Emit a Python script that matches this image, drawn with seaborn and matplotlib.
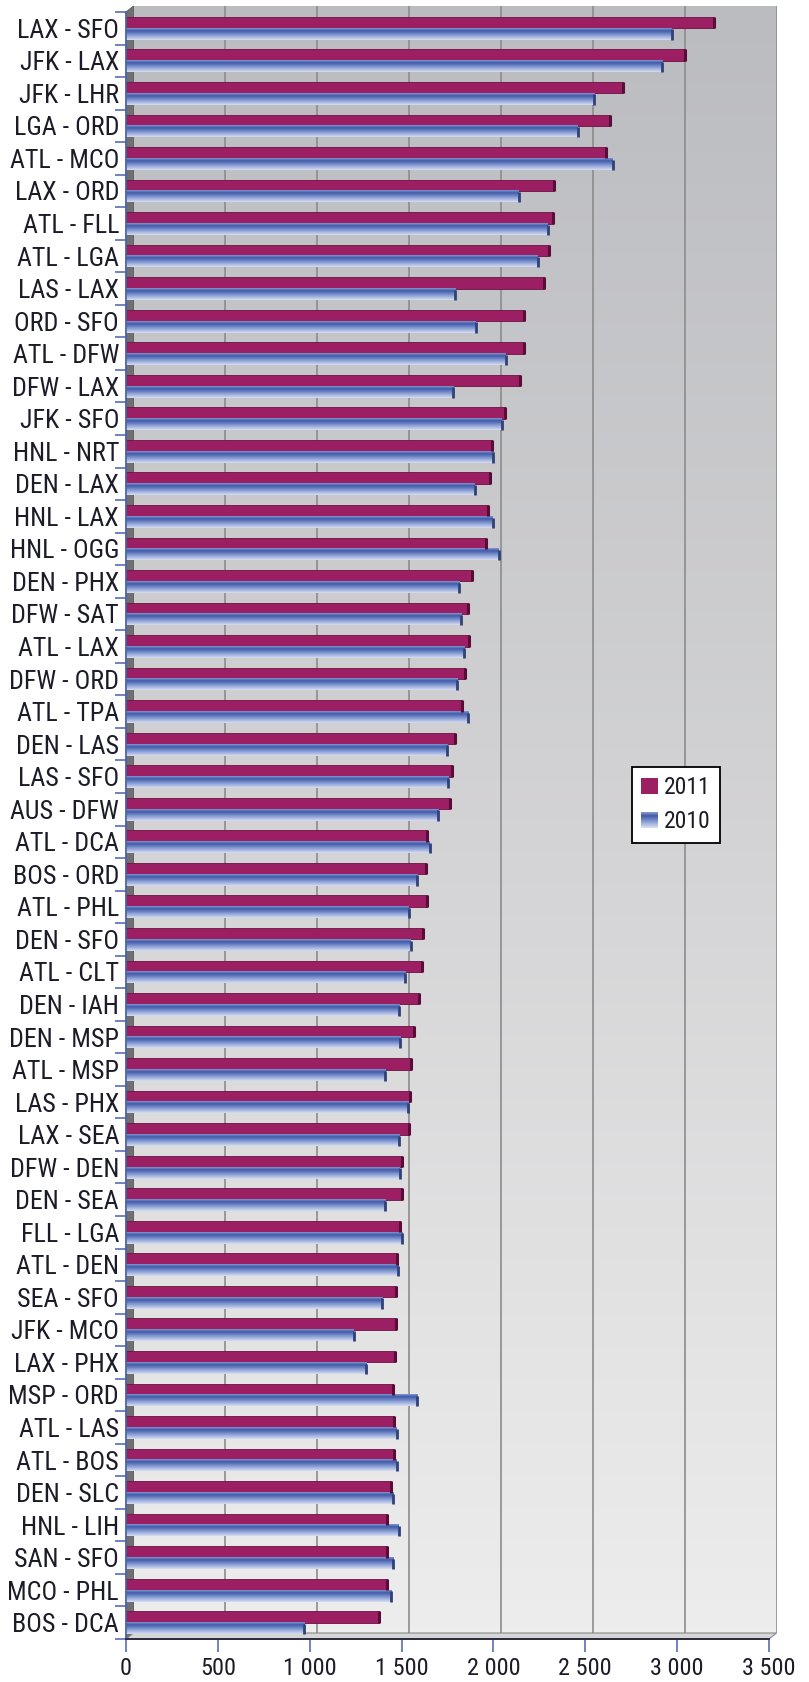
import numpy as np
import pandas as pd
import matplotlib
matplotlib.use("Agg")
import matplotlib.pyplot as plt
from matplotlib import font_manager as fm
import seaborn as sns
from matplotlib.colors import LinearSegmentedColormap, to_rgba
from matplotlib.patches import Polygon, Rectangle, Patch
from matplotlib.legend_handler import HandlerBase
from matplotlib.ticker import FixedLocator

routes = [
    "LAX - SFO", "JFK - LAX", "JFK - LHR", "LGA - ORD", "ATL - MCO",
    "LAX - ORD", "ATL - FLL", "ATL - LGA", "LAS - LAX", "ORD - SFO",
    "ATL - DFW", "DFW - LAX", "JFK - SFO", "HNL - NRT", "DEN - LAX",
    "HNL - LAX", "HNL - OGG", "DEN - PHX", "DFW - SAT", "ATL - LAX",
    "DFW - ORD", "ATL - TPA", "DEN - LAS", "LAS - SFO", "AUS - DFW",
    "ATL - DCA", "BOS - ORD", "ATL - PHL", "DEN - SFO", "ATL - CLT",
    "DEN - IAH", "DEN - MSP", "ATL - MSP", "LAS - PHX", "LAX - SEA",
    "DFW - DEN", "DEN - SEA", "FLL - LGA", "ATL - DEN", "SEA - SFO",
    "JFK - MCO", "LAX - PHX", "MSP - ORD", "ATL - LAS", "ATL - BOS",
    "DEN - SLC", "HNL - LIH", "SAN - SFO", "MCO - PHL", "BOS - DCA",
]
flights_2011 = [
    3200, 3045, 2705, 2635, 2612, 2330, 2325, 2302, 2275, 2168,
    2165, 2145, 2063, 1993, 1979, 1970, 1958, 1886, 1864, 1866,
    1844, 1828, 1790, 1772, 1766, 1639, 1634, 1636, 1618, 1609,
    1596, 1565, 1554, 1548, 1540, 1501, 1500, 1489, 1474, 1469,
    1469, 1465, 1456, 1458, 1458, 1443, 1418, 1418, 1418, 1378,
]
flights_2010 = [
    2972, 2920, 2550, 2460, 2650, 2138, 2296, 2242, 1791, 1904,
    2067, 1780, 2045, 2000, 1898, 1997, 2028, 1814, 1825, 1841,
    1803, 1863, 1748, 1754, 1699, 1654, 1586, 1540, 1551, 1520,
    1487, 1494, 1411, 1536, 1487, 1489, 1411, 1505, 1483, 1396,
    1239, 1309, 1585, 1474, 1474, 1454, 1485, 1454, 1443, 969,
]
years = ["2011", "2010"]
x_ticks = [0, 500, 1000, 1500, 2000, 2500, 3000, 3500]

MAGENTA = "#9c1f64"
BLUE = "#6f86c6"
AXIS_BLUE = "#4a62b0"
TEXT = "#1c1c28"


def pick_narrow_font():
    # the original uses a narrow face; take the first condensed family we have
    names = {f.name for f in fm.fontManager.ttflist}
    for cand in ["Roboto Condensed", "Liberation Sans Narrow", "Archivo Narrow",
                 "Open Sans Condensed", "Noto Sans Condensed"]:
        if cand in names:
            return cand, True
    return "Liberation Sans", False


font_name, is_narrow = pick_narrow_font()

sns.set_theme(style="white")
plt.rcParams["font.family"] = [font_name, "DejaVu Sans"]

ylab_size = 18.7 if is_narrow else 15.5
xlab_size = 17.5 if is_narrow else 15
leg_size = 17 if is_narrow else 15

W, H = 809, 1682
fig = plt.figure(figsize=(W / 100, H / 100), dpi=100)


def fx(px):
    return px / W


def fy(py):
    return 1 - py / H


# front frame of the plot (pixels) and 3D depth offset
L, R, T, B = 126, 769, 12, 1639
DX, DY = 7.5, 6

blue_grad = LinearSegmentedColormap.from_list(
    "bar2010", [(0, "#8196d0"), (0.22, "#3f5aa8"), (0.55, "#7e94cf"), (1, "#d6ddf2")]
)
wall_grad = LinearSegmentedColormap.from_list("wall", ["#bbbcc0", "#d3d3d5", "#ededed"])

# back wall with gridlines
back = fig.add_axes([fx(L + DX), fy(B - DY), (R - L) / W, (B - T) / H], zorder=0)
back.imshow(np.linspace(0, 1, 256).reshape(-1, 1), cmap=wall_grad, aspect="auto",
            extent=(0, 3500, 0, 1), origin="upper")
back.vlines(x_ticks[1:], 0, 1, color="#8c8c8c", lw=1.2)
back.set_xlim(0, 3500)
back.set_ylim(0, 1)
back.set_xticks([])
back.set_yticks([])
for s in back.spines.values():
    s.set_visible(False)

# left wall and floor
left_wall = Polygon([(fx(L), fy(T)), (fx(L + DX), fy(T - DY)), (fx(L + DX), fy(B - DY)), (fx(L), fy(B))],
                    closed=True, transform=fig.transFigure, facecolor="#707070", edgecolor="#555555",
                    lw=0.6, zorder=1)
floor = Polygon([(fx(L), fy(B)), (fx(L + DX), fy(B - DY)), (fx(R + DX), fy(B - DY)), (fx(R), fy(B))],
                closed=True, transform=fig.transFigure, facecolor="#d6d6d6", edgecolor="#8a8a8a",
                lw=0.8, zorder=1)
fig.patches.extend([left_wall, floor])

ax = fig.add_axes([fx(L), fy(B), (R - L) / W, (B - T) / H], zorder=2)
ax.set_facecolor("none")

df = pd.DataFrame({
    "route": routes * 2,
    "year": [years[0]] * len(routes) + [years[1]] * len(routes),
    "flights": flights_2011 + flights_2010,
})
sns.barplot(data=df, x="flights", y="route", hue="year", hue_order=years,
            palette={"2011": MAGENTA, "2010": BLUE}, width=0.7, orient="h",
            saturation=1, legend=False, ax=ax)

blue_rgba = to_rgba(BLUE)
grad = np.linspace(0, 1, 64).reshape(-1, 1)
for p in list(ax.patches):
    x0, y0, w, h = p.get_x(), p.get_y(), p.get_width(), p.get_height()
    if np.allclose(p.get_facecolor(), blue_rgba):
        ax.imshow(grad, cmap=blue_grad, aspect="auto", origin="upper",
                  extent=(x0, x0 + w, y0 + h, y0), zorder=p.get_zorder())
        p.set_facecolor("none")
        p.set_edgecolor("none")
        ax.vlines(x0 + w, y0 + h * 0.1, y0 + h, color="#2f4177", lw=2.0, zorder=3)
    else:
        p.set_edgecolor("#6a1244")
        p.set_linewidth(0.6)
        ax.vlines(x0 + w, y0, y0 + h, color="#5a0c38", lw=2.2, zorder=3)

ax.set_xlim(0, 3500)
ax.set_ylim(len(routes) - 0.5, -0.5)
ax.set_xlabel("")
ax.set_ylabel("")

ax.set_xticks(x_ticks)
ax.set_xticklabels([f"{v:,}".replace(",", " ") for v in x_ticks])
ax.yaxis.set_minor_locator(FixedLocator(np.arange(-0.5, len(routes), 1)))
ax.tick_params(axis="x", which="major", direction="out", length=9.5, width=1.1,
               color=AXIS_BLUE, pad=3.5, labelsize=xlab_size, labelcolor=TEXT, bottom=True)
ax.tick_params(axis="y", which="major", length=0, pad=5, labelsize=ylab_size, labelcolor=TEXT)
ax.tick_params(axis="y", which="minor", direction="out", length=8, width=1.1,
               color=AXIS_BLUE, left=True)

for name, s in ax.spines.items():
    s.set_visible(name in ("left", "bottom"))
ax.spines["left"].set_color(AXIS_BLUE)
ax.spines["left"].set_linewidth(1.2)
ax.spines["bottom"].set_color("#2c2c40")
ax.spines["bottom"].set_linewidth(1.4)


class GradientHandler(HandlerBase):
    def create_artists(self, legend, orig_handle, xdescent, ydescent, width, height, fontsize, trans):
        n = 16
        out = []
        for i in range(n):
            r = Rectangle((-xdescent, -ydescent + height - height * (i + 1) / n), width, height / n,
                          facecolor=blue_grad(i / (n - 1)), edgecolor="none", transform=trans)
            out.append(r)
        return out


h2011 = Patch(facecolor=MAGENTA, edgecolor="none")
h2010 = Patch(facecolor=BLUE, edgecolor="none")
leg = ax.legend([h2011, h2010], years, loc="upper left",
                bbox_to_anchor=((632 - L) / (R - L), 1 - (767 - T) / (B - T)),
                borderaxespad=0, fontsize=leg_size, frameon=True, fancybox=False, framealpha=1,
                edgecolor="black", facecolor="white", handlelength=0.7, handleheight=0.7,
                handletextpad=0.25, labelspacing=0.45, borderpad=0.4,
                handler_map={h2010: GradientHandler()})
leg.get_frame().set_linewidth(1.3)
for t in leg.get_texts():
    t.set_color(TEXT)

fig.savefig("out.png", dpi=100)
